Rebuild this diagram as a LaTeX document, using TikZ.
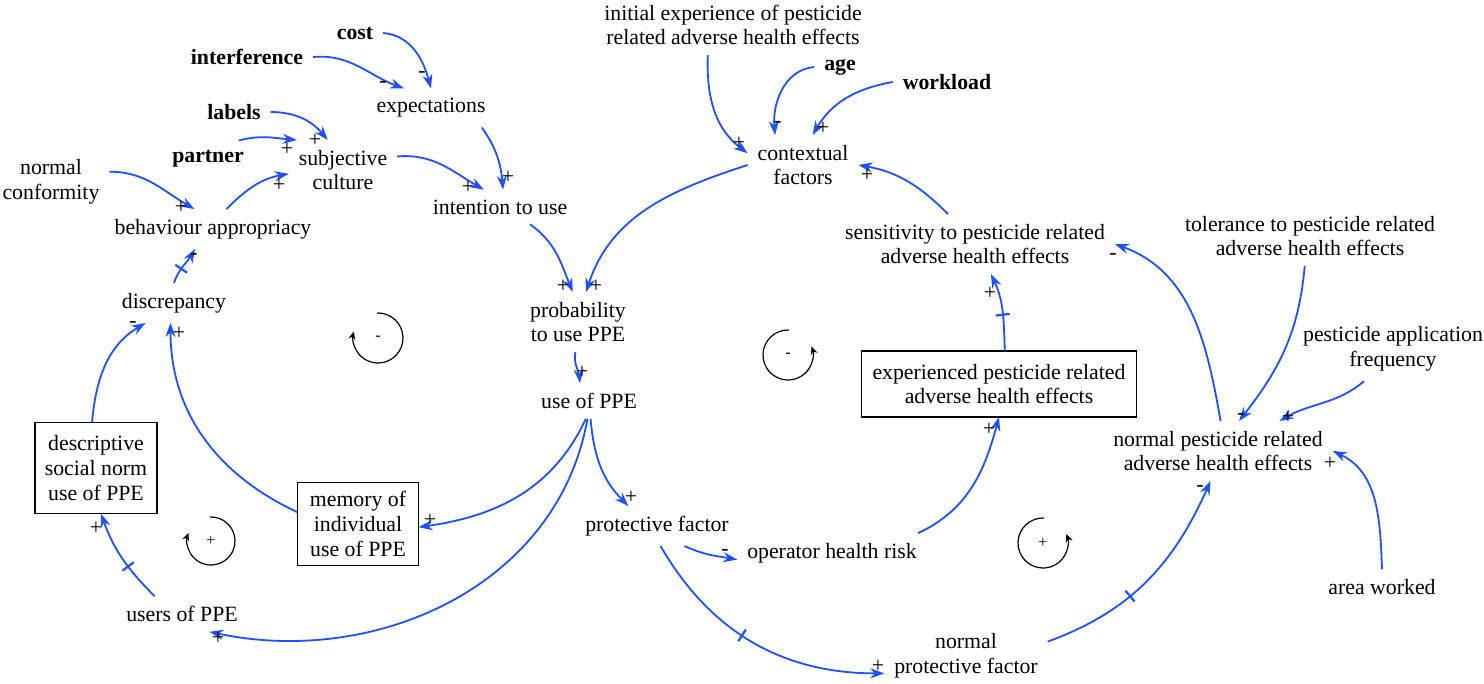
\documentclass[tikz,border=0pt]{standalone}
\usepackage{fontspec}
\setmainfont{Liberation Serif}
\usepackage{tikz}
\usetikzlibrary{arrows.meta,decorations.markings}
\definecolor{linkblue}{RGB}{30,80,255}

\tikzset{
  cvar/.style={align=center, inner sep=2pt, outer sep=3pt, font=\fontsize{10.9}{12.3}\selectfont},
  exo/.style={cvar, font=\fontsize{10.9}{12.3}\selectfont\bfseries},
  stock/.style={cvar, draw, line width=0.7pt, inner sep=0pt, outer sep=0pt},
  link/.style={linkblue, line width=0.9pt, -{Stealth[length=7pt,width=5pt]}},
  delaymark/.style={postaction={decorate, decoration={markings,
      mark=at position #1 with {\draw[linkblue, line width=1.1pt, arrows=-] (0pt,-3.5pt) -- (0pt,3.5pt);}}}},
  delaymark/.default=0.5,
  sgn/.style={inner sep=0pt, font=\fontsize{10.9}{12}\selectfont},
  looparc/.style={line width=0.6pt, -{Stealth[length=4pt,width=3.5pt]}}
}

\begin{document}
\begin{tikzpicture}[x=0.5pt,y=0.5pt]
\useasboundingbox (0,0) rectangle (1484,-684);

% Variables
\node[exo] (cost) at (355,-33) {cost};
\node[exo] (interf) at (247,-57) {interference};
\node[cvar] (expect) at (431,-108) {expectations};
\node[exo] (labels) at (234,-112) {labels};
\node[exo] (partner) at (208,-159) {partner};
\node[cvar] (subj) at (343,-170) {subjective\\culture};
\node[cvar] (conform) at (51,-182) {normal\\conformity};
\node[cvar] (behav) at (213,-229) {behaviour appropriacy};
\node[cvar] (intent) at (500,-207) {intention to use};
\node[cvar] (discrep) at (174,-303) {discrepancy};
\node[cvar] (prob) at (578,-322) {probability\\to use PPE};
\node[cvar] (useppe) at (589,-401) {use of PPE};
\node[cvar] (initexp) at (733,-25) {initial experience of pesticide\\related adverse health effects};
\node[exo] (age) at (840,-67) {age};
\node[exo] (workload) at (947,-82) {workload};
\node[cvar] (context) at (803,-165) {contextual\\factors};
\node[cvar] (sensit) at (975,-244) {sensitivity to pesticide related\\adverse health effects};
\node[cvar] (toler) at (1310,-236) {tolerance to pesticide related\\adverse health effects};
\node[cvar] (freq) at (1393,-349) {pesticide application\\frequency};
\node[cvar] (normpest) at (1218,-451) {normal pesticide related\\adverse health effects};
\node[cvar] (area) at (1382,-587) {area worked};
\node[cvar] (users) at (182,-614) {users of PPE};
\node[cvar] (protect) at (657,-526) {protective factor};
\node[cvar] (operator) at (832,-553) {operator health risk};
\node[cvar] (normprot) at (966,-656) {normal\\protective factor};

% Stocks
\node[stock, minimum width=137.5pt, minimum height=33pt] (exper) at (999,-384) {experienced pesticide related\\adverse health effects};
\node[stock, minimum width=61pt, minimum height=45.5pt] (descr) at (96,-468) {descriptive\\social norm\\use of PPE};
\node[stock, minimum width=60.5pt, minimum height=41.5pt] (memory) at (358,-524) {memory of\\individual\\use of PPE};

% Links, upper left
\draw[link] (cost.east) to[out=-5,in=105] (expect.north);
\draw[link] (interf.east) to[out=5,in=160] (expect.144);
\draw[link] (labels.east) to[out=0,in=130] (subj.117);
\draw[link] (partner.31) to[out=15,in=175] (subj.147);
\draw[link] (behav.56) to[out=45,in=190] (subj.184);
\draw[link] (conform.10) to[out=0,in=150] (behav.133);
\draw[link] (subj.14) to[out=5,in=150] (intent.133);
\draw[link] (expect.-21) to[out=-55,in=95] (intent.80);
\draw[link] (intent.-30) to[out=-35,in=112] (prob.100);
\draw[link] (context.west) to[out=198,in=72] (prob.75);
\draw[link] (prob.-95) to[out=-100,in=95] (useppe.117);

% Links, lower left
\draw[link, delaymark=0.4] (discrep.north) to[out=72,in=-120] (behav.-132);
\draw[link] (descr.95) to[out=85,in=-149] (discrep.-145);
\draw[link] (memory.169) to[out=155,in=-90] (discrep.-100);
\draw[link, delaymark=0.4] (users.147) to[out=135,in=-70] (descr.-84);
\draw[link] (useppe.-100) to[out=-115,in=8] (memory.-3);
\draw[link] (useppe.-95) to[out=-100,in=-12] (users.-33);
\draw[link] (useppe.-85) to[out=-85,in=135] (protect.145);
\draw[link] (protect.-36) to[out=-25,in=170] (operator.184);
\draw[link, delaymark=0.45] (protect.-80) to[out=-60,in=180] (normprot.192);

% Links, right
\draw[link] (operator.13) to[out=25,in=-105] (exper.south);
\draw[link, delaymark=0.46] (exper.80) to[out=92,in=-65] (sensit.-62);
\draw[link] (sensit.132) to[out=135,in=-10] (context.east);
\draw[link] (normpest.85) to[out=100,in=-20] (sensit.east);
\draw[link] (toler.-100) to[out=-95,in=52] (normpest.55);
\draw[link] (freq.-132) to[out=-140,in=30] (normpest.26);
\draw[link] (area.north) to[out=92,in=-25] (normpest.east);
\draw[link, delaymark=0.4] (normprot.10) to[out=20,in=-114] (normpest.-104);
\draw[link] (initexp.-130) to[out=-92,in=143] (context.168);
\draw[link] (age.west) to[out=185,in=95] (context.133);
\draw[link] (workload.west) to[out=190,in=60] (context.72);

% Polarities
\foreach \x/\y/\s [count=\i] in {422/75/-, 383/85/-, 315/140/+, 287/149/+, 279/185/+,
    181/207/+, 468/187/+, 508/177/+, 563/286/+, 596/286/+, 582/372/+,
    194/257/-, 133/325/-, 179/333/+, 96/528/+, 430/520/+, 218/638/+,
    631/497/+, 725/553/-, 878/666/+, 989/429/+, 990/293/+, 867/175/+,
    1113/257/-, 1241/417/-, 1288/417/+, 1330/463/+, 1200/489/-,
    739/143/+, 778/125/-, 823/128/+}
{
    \node[sgn] (pol\i) at (\x,-\y) {\s};
}

% Loop markers
\node[sgn, font=\footnotesize] (loopA) at (378,-338) {-};
\draw[looparc] (loopA.center) ++(92:25) arc[start angle=92, end angle=-195, radius=25];
\node[sgn, font=\footnotesize] (loopB) at (788,-355) {-};
\draw[looparc] (loopB.center) ++(88:25) arc[start angle=88, end angle=380, radius=25];
\node[sgn, font=\footnotesize] (loopC) at (211,-541) {+};
\draw[looparc] (loopC.center) ++(92:24) arc[start angle=92, end angle=-200, radius=24];
\node[sgn, font=\footnotesize] (loopD) at (1043,-543) {+};
\draw[looparc] (loopD.center) ++(88:25) arc[start angle=88, end angle=381, radius=25];

\end{tikzpicture}
\end{document}
